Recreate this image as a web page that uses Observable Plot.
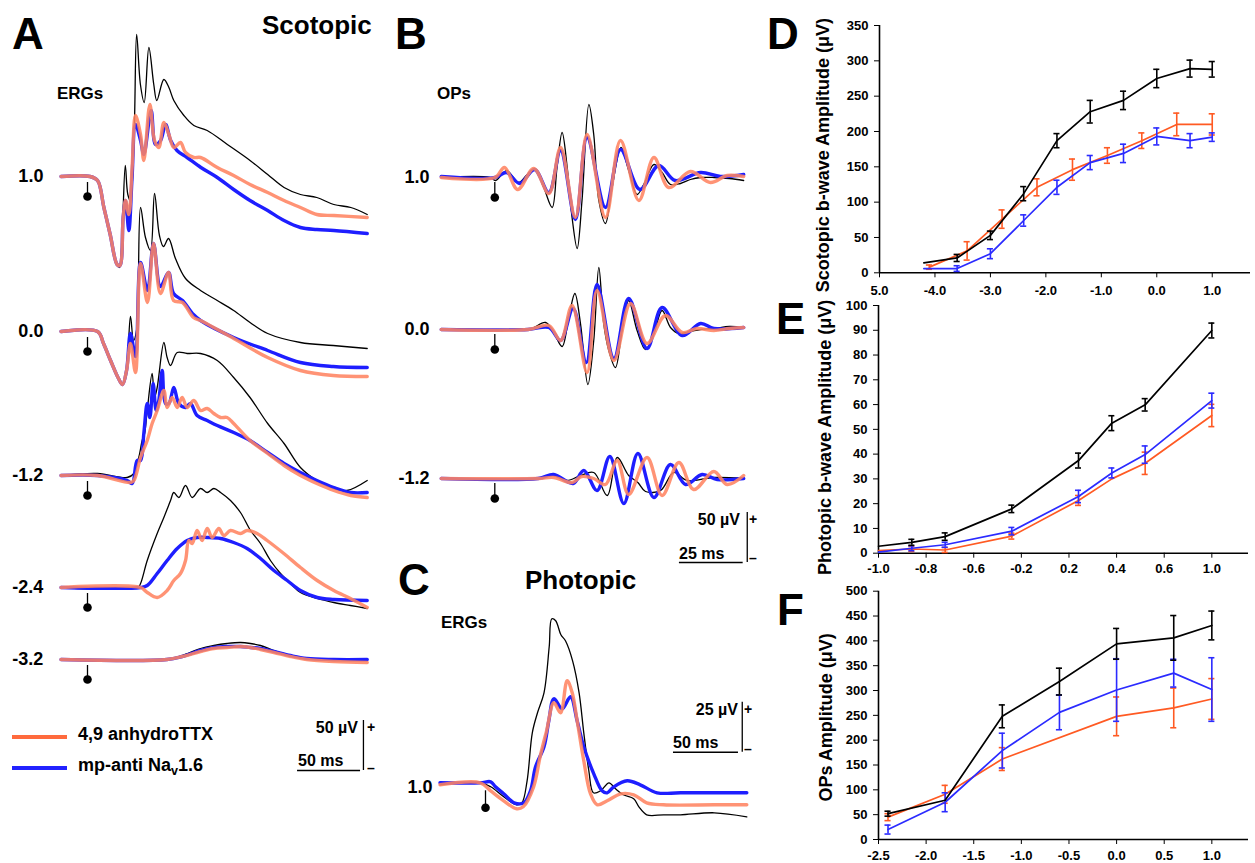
<!DOCTYPE html>
<html><head><meta charset="utf-8">
<script src="https://cdn.jsdelivr.net/npm/d3@7"></script>
<script src="https://cdn.jsdelivr.net/npm/@observablehq/plot@0.6"></script>
<style>
html,body{margin:0;padding:0;background:#fff;overflow:hidden}
#fig{position:relative;width:1255px;height:863px;font-family:"Liberation Sans",Arial,Helvetica,sans-serif;color:#000;overflow:hidden}
#fig svg{position:absolute}
.t{position:absolute;white-space:nowrap;line-height:1;font-weight:bold}
.t sub{font-size:70%;vertical-align:-0.35em;line-height:0}
.leg{position:absolute;height:4px;width:55px;left:12px}
</style></head><body><div id="fig"></div>
<script>
// ===================== DATA =====================
// Series: control (black), 4,9 anhydroTTX (orange), mp-anti Nav1.6 (blue)
// Panel A – scotopic ERGs, [time ms after flash, amplitude µV]
const intensitiesA = ["1.0", "0.0", "-1.2", "-2.4", "-3.2"];
const A10_ctrl = [[-21,0],[2,0],[8,-4],[13,-31],[18,-58],[23.5,-88],[25.5,-91],[27.5,-58],[30,11],[32,-18],[34,-24],[37,42],[39,142],[42,92],[45,74],[48.7,129],[52.6,92],[55,76],[60.6,97],[64.6,89],[68.5,76],[76.5,61],[84.4,51],[95,46],[111,32],[129,16],[143,2],[156,-11],[169,-18],[182,-21],[195.5,-28],[209,-31],[222,-38]];
const A10_ttx = [[-21,0],[2,0],[8,-4],[13,-31],[18,-58],[23.5,-88],[25.7,-89],[28.3,-41],[30.2,-24],[32.8,-38],[35.4,9],[38.1,61],[42.1,42],[44.7,16],[49.5,72],[53.2,36],[56.6,29],[60.6,54],[64.6,42],[68.5,29],[73.8,34],[77.8,24],[84.4,19],[89.7,19],[103,9],[116,1],[129,-8],[143,-16],[156,-24],[169,-31],[182,-38],[195.5,-39],[222,-41]];
const A10_nav = [[-21,0],[2,0],[8,-4],[13,-31],[18,-58],[23.5,-88],[25.7,-89],[28.3,-41],[30.2,-24],[32.8,-54],[35.4,0],[38.1,52],[42.1,36],[44.7,22],[50.5,66],[54,32],[58,36],[62,52],[66,36],[71,26],[79,19],[90,9],[103,-1],[116,-13],[129,-24],[143,-34],[156,-44],[169,-51],[182,-53],[195.5,-54],[222,-57]];
const A00_ctrl = [[-21,0],[8,0],[12.7,-12],[18.3,-29],[24.6,-47],[27.8,-53],[31,-39],[34.1,15],[36.5,-9],[38.9,1],[42.1,124],[46,94],[50,81],[53.2,138],[57.1,96],[60.3,85],[64.3,93],[69.8,73],[77.8,53],[89.7,41],[103,31],[116,21],[129,9],[143,-2],[169,-11],[195,-14],[222,-17]];
const A00_ttx = [[-21,0],[8,0],[12.7,-12],[18.3,-29],[24.6,-47],[27.8,-53],[31,-39],[34.1,-12],[38.1,-41],[42.1,68],[47.6,29],[52.4,88],[57.9,38],[64.3,59],[68.3,31],[75.4,29],[84.1,14],[89.7,11],[116,-7],[143,-26],[169,-39],[195,-44],[222,-45]];
const A00_nav = [[-21,0],[8,0],[12.7,-12],[18.3,-29],[24.6,-47],[27.8,-53],[31,-39],[34.1,-2],[38.1,-25],[42.1,69],[47.6,41],[52.4,88],[57.9,45],[64.3,59],[68.3,38],[75.4,31],[84.1,17],[89.7,11],[116,-6],[143,-19],[169,-31],[195,-35],[222,-36]];
const Am12_ctrl = [[-21,0],[8,2],[31.5,-2],[36.8,2],[40.7,18],[43.4,35],[45.3,42],[47.4,65],[51.3,102],[53.2,78],[55.3,88],[60.6,133],[63.2,118],[65.9,110],[71.2,123],[79.1,122],[89.7,122],[103,115],[116,98],[129,78],[143,52],[156,32],[169,8],[182,-5],[195.5,-13],[206,-15],[222,-5]];
const Am12_ttx = [[-21,0],[8,0],[34.1,-7],[36.8,-5],[42.1,18],[47.4,35],[51.3,52],[55.3,65],[60.6,85],[63.2,68],[67.2,78],[71.2,68],[75.1,78],[79.1,68],[84.4,75],[89.7,65],[95,67],[100.3,62],[105.6,58],[110.8,58],[116,52],[129,35],[143,22],[156,10],[169,0],[182,-8],[195.5,-15],[209,-20],[222,-22]];
const Am12_nav = [[-21,0],[8,0],[31.5,-5],[35.5,-8],[39.4,15],[42.1,15],[44.7,42],[47.4,72],[49.5,58],[52.1,92],[54.5,65],[56.6,75],[59.3,105],[61.9,72],[64.6,72],[68.5,88],[72.5,72],[77.8,68],[81.7,72],[87,60],[95,55],[103,50],[116,43],[129,35],[143,23],[156,12],[169,3],[182,-5],[195.5,-12],[209,-17],[222,-17]];
const Am24_ctrl = [[-21,0],[40,0],[42.1,4],[47.4,27],[55.3,54],[60.6,70],[65.9,87],[68.5,95],[72.5,90],[77.8,102],[83.1,90],[89.7,99],[95,95],[100.3,99],[105.6,95],[113.5,87],[121.4,75],[129.4,57],[137.3,44],[145.2,27],[153.2,14],[161.1,4],[169,-5],[182.3,-11],[195.5,-15],[208.7,-18],[222,-21]];
const Am24_ttx = [[-21,0],[42.1,0],[47.4,-5],[55.3,-10],[63.2,-3],[68.5,7],[73.8,14],[77.8,27],[80.4,47],[83.1,44],[87,57],[91,47],[95,59],[99,50],[104.2,59],[108.2,52],[113.5,57],[121.4,54],[126.7,57],[134.6,54],[142.6,47],[155.8,34],[169,20],[182.3,7],[195.5,-3],[208.7,-11],[222,-20]];
const Am24_nav = [[-21,0],[42.1,0],[47.4,2],[55.3,14],[63.2,27],[71.2,39],[79.1,47],[87,50],[95,50],[105.6,49],[116,45],[126.7,39],[137.3,29],[147.9,17],[158.5,7],[169,-3],[182.3,-10],[195.5,-12],[222,-13]];
const Am32_ctrl = [[-21,0],[63,0],[75.1,4],[89.7,11],[100.3,14],[110.8,16],[121.4,17],[129.4,16],[137.3,14],[148,9],[161,4],[174,1],[195.5,-1],[222,-1]];
const Am32_ttx = [[-21,0],[63,0],[75.1,3],[89.7,8],[100.3,11],[110.8,12],[121.4,13],[129.4,12],[137.3,10],[148,7],[161,3],[174,0],[195.5,-2],[222,-3]];
const Am32_nav = [[-21,0],[63,0],[75.1,3],[89.7,9],[100.3,12],[110.8,13],[121.4,13],[129.4,12],[137.3,11],[148,8],[161,4],[174,1],[195.5,0],[222,0]];

// Panel B – scotopic OPs, [ms, µV]
const intensitiesB = ["1.0", "0.0", "-1.2"];
const B10_ctrl = [[-21,0],[-2,0],[0.3,-3],[3.5,5],[4.8,7],[9.4,-5],[12.7,3],[15.9,8],[19.2,-10],[22.5,-30],[24.4,10],[26.4,45],[28.4,10],[30.3,-40],[32.3,-71],[34.2,-23],[36.9,73],[38.8,43],[40.8,-23],[43.4,-46],[46,-10],[49.5,30],[52.5,7],[55.8,-17],[58.4,-7],[62.4,13],[65.6,5],[68.9,-7],[72.8,-6],[76.7,-2],[80.7,0],[86,0],[92,-1],[97.6,-3]];
const B10_ttx = [[-21,0],[0,0],[3.8,10],[9,-12],[15.3,9],[21.2,-16],[25.8,30],[31.6,-40],[36.2,43],[43.4,-40],[49.3,37],[56.5,-23],[62.4,20],[68.2,-10],[76.7,6],[84.6,-5],[91.1,2],[97.6,1]];
const B10_nav = [[-21,1],[0,0],[4.6,5],[9.8,-6],[15.6,8],[21.2,-15],[25.8,27],[31.6,-42],[36.2,40],[43.4,-30],[49.3,28],[56.9,-12],[64.3,12],[70.8,-3],[80.7,5],[88.5,1],[97.6,3]];
const B00_ctrl = [[-21,0],[13,0],[15.3,2],[19.9,7],[23.1,-3],[26.4,-17],[29,12],[31.4,36],[33.6,6],[36.5,-55],[38.8,-11],[40.8,62],[42.7,6],[44.7,-21],[47.3,-38],[49.9,-1],[52.5,29],[55.8,-1],[59.1,-20],[62.4,-4],[65.6,19],[68.9,2],[72.2,-4],[76.7,-2],[80.7,0],[86,1],[92,3],[97.6,2]];
const B00_ttx = [[-21,0],[13,0],[21.2,4],[25.8,-11],[30.3,24],[36.2,-43],[40.1,39],[46.7,-31],[53.2,26],[59.7,-14],[66.9,14],[73.5,-3],[79.3,1],[85.9,-1],[92,1],[97.6,2]];
const B00_nav = [[-21,0],[13,0],[21.2,2],[25.8,-11],[30.7,21],[35.9,-33],[40.1,45],[46.7,-29],[52.5,31],[59.7,-19],[65.6,22],[73.5,-6],[80.7,6],[85.9,1],[97.6,2]];
const Bm12_ctrl = [[-21,0],[17,0],[23.1,3],[28.4,-2],[33.6,3],[38.8,6],[44.1,-17],[48,21],[52.5,3],[56.1,-4],[59.1,-13],[65,-12],[70.2,6],[75.4,-2],[85.9,1],[97.6,0]];
const Bm12_ttx = [[-21,0],[17,0],[23.1,1],[30.3,-4],[34,2],[38.8,0],[43.4,-6],[48,18],[52.5,-16],[59.7,21],[65.6,-17],[72.2,16],[78,-11],[85.9,7],[91.1,-6],[97.6,3]];
const Bm12_nav = [[-21,0],[17,0],[23.1,4],[30.7,-5],[34.9,8],[40.1,-12],[45.1,22],[50.6,-25],[56.1,25],[62.4,-19],[68.9,14],[74.8,-6],[81.3,4],[87.2,-1],[97.6,0]];

// Panel C – photopic ERG, [ms, µV]
const C10_ctrl = [[-35,-1],[-4,0],[4,-2],[14,-7],[24,-11],[28,-10],[32,1],[36,25],[40,35],[45,45],[49,68],[51,82],[54,81],[58,74],[61.5,71],[67,61],[72,45],[75.6,25],[79.5,6],[83,-5],[88.5,-4],[95,0],[100,-3],[106,-6],[114,-8],[118,-12],[124,-16],[137,-16],[150,-16],[176,-15],[201,-17]];
const C10_ttx = [[-35,-1],[-4,0],[4,-4],[14,-9],[24,-13],[29,-12],[37,-2],[42,13],[47,26],[52.6,40],[57.7,35],[62.8,51],[66.7,45],[70.5,31],[75.6,11],[80.8,-5.5],[86,-11],[93.6,-9],[104,-5.5],[114,-6],[124,-10],[137,-11],[176,-11],[201,-11]];
const C10_nav = [[-35,0],[-4,0],[4,0.5],[7.7,-2],[14,-5.5],[22,-10],[29.5,-10],[34.6,-4],[38.5,8],[45,18],[48.7,31],[52.6,42],[59,37],[65.4,43],[70.5,31],[75.6,18],[83.3,4.5],[89.7,-4],[93.6,-5],[98.7,-2],[109,1],[119,-1],[132,-5],[150,-5],[201,-5]];

// Panel D – scotopic b-wave amplitude (µV) vs log intensity
const dCtrlX = [-4.2,-3.6,-3.0,-2.4,-1.8,-1.2,-0.6,0,0.6,1.0];
const dCtrlY = [14,21,53,112,187,228,244,275,289,288];
const dCtrlE = [0,5,6,10,10,16,13,13,12,11];
const dTtxX = [-4.1,-3.42,-2.79,-2.16,-1.52,-0.89,-0.27,0.36,1.0];
const dTtxY = [8,31,76,121,146,166,187,210,210];
const dTtxE = [3,13,13,12,15,11,11,16,15];
const dNavX = [-4.2,-3.6,-3.0,-2.4,-1.8,-1.2,-0.6,0,0.6,1.0];
const dNavY = [6,6,27,74,121,156,169,193,187,192];
const dNavE = [0,4,7,8,10,10,13,12,10,6];
const dXTicks = [-5,-4,-3,-2,-1,0,1];

// Panel E – photopic b-wave amplitude (µV)
const eX = [-1.0,-0.8,-0.6,-0.2,0.2,0.4,0.6,1.0];
const eCtrlY = [2.8,4.4,6.7,17.9,37.4,52.5,59.9,89.9];
const eCtrlE = [0,1.2,1.5,1.5,3,3,2.5,3];
const eTtxY = [1.1,1.7,1.3,6.9,21.3,30,36.3,55.6];
const eTtxE = [0,1,1,1.2,2,0,4.5,4.5];
const eNavY = [0.4,2,3.4,8.9,22.9,32.4,39.8,61.6];
const eNavE = [0,1,1,1.5,2.5,2,3.5,3];
const eTickLabels = ["-1.0","-0.8","-0.6","-0.2","0.2","0.4","0.6","1.0"];

// Panel F – OPs amplitude (µV)
const fX = [-2.4,-1.8,-1.2,-0.6,0,0.6,1.0];
const fCtrlY = [52,79,248,318,394,406,431];
const fCtrlE = [5,0,23,27,31,45,29];
const fTtxX = [-2.4,-1.8,-1.2,0,0.6,1.0];
const fTtxY = [45,91,162,248,265,283];
const fTtxE = [7,18,23,39,40,41];
const fNavY = [20,75,179,256,301,335,302];
const fNavE = [9,19,35,35,63,28,64];

// ===================== STYLE / LAYOUT =====================
const TR_ORANGE = "#ff8462", TR_BLUE = "#1e1eff";
const ST_ORANGE = "#ff5a23", ST_BLUE = "#2b2bff";
const FONT = '"Liberation Sans", Arial, Helvetica, sans-serif';
const fig = document.getElementById("fig");

function place(svg, left, top) { svg.style.left = left + "px"; svg.style.top = top + "px"; fig.appendChild(svg); }
function txt(html, x, y, size, anchor) {
  const d = document.createElement("div");
  d.className = "t"; d.innerHTML = html;
  d.style.left = x + "px"; d.style.top = y + "px"; d.style.fontSize = size + "px";
  const ax = anchor === "end" ? "-100%" : anchor === "middle" ? "-50%" : "0";
  d.style.transform = `translate(${ax},-50%)`;
  fig.appendChild(d);
}
function rowsOf(pairs, level) { return pairs.map(([t, v]) => ({t, v, level})); }

// ---------- trace panel builder ----------
function tracePlot(o) {
  const k = o.series;
  const y = d => d.v - (o.base[d.level] || 0);
  const marks = [];
  const cat = (i) => k.flatMap(([lv, tr]) => rowsOf(tr[i], lv));
  marks.push(Plot.line(cat(0), {x: "t", y, z: "level", stroke: "#000", strokeWidth: 1.3, curve: "catmull-rom"}));
  marks.push(Plot.line(cat(2), {x: "t", y, z: "level", stroke: TR_BLUE, strokeWidth: 3.4, curve: "catmull-rom"}));
  marks.push(Plot.line(cat(1), {x: "t", y, z: "level", stroke: TR_ORANGE, strokeOpacity: 0.88, strokeWidth: 3.4, curve: "catmull-rom"}));
  const lv = k.map(([level]) => ({level, v: 0}));
  marks.push(Plot.ruleX(lv, {x: 0, y1: d => y(d) + o.flash[0], y2: d => y(d) + o.flash[1], stroke: "#000", strokeWidth: 1.3}));
  marks.push(Plot.dot(lv, {x: 0, y: d => y(d) + o.flash[1], r: 4.3, fill: "#000"}));
  marks.push(Plot.text(lv, {x: o.labelT, y: d => y(d) + o.labelDy, text: "level", textAnchor: "end", fontSize: 18, fontWeight: "bold"}));
  const s = o.bar;
  marks.push(Plot.ruleX([s], {x: "barT", y1: d => d.base, y2: d => d.base + d.uv, stroke: "#000", strokeWidth: 1.3}));
  marks.push(Plot.ruleY([s], {y: "base", x1: d => d.msEnd - d.ms, x2: "msEnd", stroke: "#000", strokeWidth: 1.6}));
  return Plot.plot({
    width: o.width, height: o.height, margin: 0,
    x: {domain: o.xDomain, axis: null}, y: {domain: o.yDomain, axis: null},
    style: {background: "transparent", overflow: "visible", fontFamily: FONT},
    marks
  });
}

// Panel A (1 px per µV, 1.26 px per ms)
const baseA = {"1.0": 176, "0.0": 331, "-1.2": 475, "-2.4": 587, "-3.2": 659};
const tracesA = [A10_ctrl, A10_ttx, A10_nav, A00_ctrl, A00_ttx, A00_nav, Am12_ctrl, Am12_ttx, Am12_nav, Am24_ctrl, Am24_ttx, Am24_nav, Am32_ctrl, Am32_ttx, Am32_nav];
place(tracePlot({
  width: 380, height: 863, xDomain: [-87/1.26, (380-87)/1.26], yDomain: [-863, 0],
  base: baseA, series: intensitiesA.map((lv, i) => [lv, tracesA.slice(i*3, i*3+3)]),
  flash: [-6, -20], labelT: -35, labelDy: 0,
  bar: {barT: 219, base: -770, uv: 50, msEnd: 216.7, ms: 50}
}), 0, 0);

// Panel B (1 px per µV, 2.55 px per ms)
const baseB = {"1.0": 177, "0.0": 329, "-1.2": 478};
const tracesB = [B10_ctrl, B10_ttx, B10_nav, B00_ctrl, B00_ttx, B00_nav, Bm12_ctrl, Bm12_ttx, Bm12_nav];
place(tracePlot({
  width: 400, height: 600, xDomain: [-114.3/2.55, (400-114.3)/2.55], yDomain: [-600, 0],
  base: baseB, series: intensitiesB.map((lv, i) => [lv, tracesB.slice(i*3, i*3+3)]),
  flash: [-5, -20], labelT: -25.6, labelDy: 0,
  bar: {barT: 99, base: -562, uv: 50, msEnd: 97.4, ms: 25}
}), 380, 0);

// Panel C (2 px per µV, 1.3 px per ms)
place(tracePlot({
  width: 400, height: 263, xDomain: [-105/1.3, 295/1.3], yDomain: [-40.35, 91.15],
  base: {"1.0": 0}, series: [["1.0", [C10_ctrl, C10_ttx, C10_nav]]],
  flash: [-4, -12.5], labelT: -40.8, labelDy: -2,
  bar: {barT: 197.5, base: 15.3, uv: 25, msEnd: 194.6, ms: 50}
}), 380, 600);

// ---------- statistics panels ----------
function statPlot(o) {
  const marks = [
    Plot.ruleY([o.yDomain[0]], {stroke: "#000", strokeWidth: 1.6}),
    Plot.ruleX([o.xDomain[0]], {y1: o.yDomain[0], y2: o.yDomain[1], stroke: "#000", strokeWidth: 1.6})
  ];
  for (const s of o.series) {
    const rows = s.x.map((x, i) => ({x, y: s.y[i], e: s.e[i]}));
    const eb = rows.filter(r => r.e > 0);
    marks.push(Plot.line(rows, {x: "x", y: "y", stroke: s.color, strokeWidth: 1.7}));
    marks.push(Plot.ruleX(eb, {x: "x", y1: d => d.y - d.e, y2: d => d.y + d.e, stroke: s.color, strokeWidth: 1.6}));
    marks.push(Plot.ruleY(eb, {y: d => d.y + d.e, x1: d => d.x - o.cap, x2: d => d.x + o.cap, stroke: s.color, strokeWidth: 1.6}));
    marks.push(Plot.ruleY(eb, {y: d => d.y - d.e, x1: d => d.x - o.cap, x2: d => d.x + o.cap, stroke: s.color, strokeWidth: 1.6}));
  }
  marks.push(Plot.text([o.label], {text: d => d, frameAnchor: "left", rotate: -90, dx: o.ldx, dy: o.ldy, fontSize: 18, fontWeight: "bold", textAnchor: "middle"}));
  return Plot.plot({
    width: o.width, height: o.height,
    marginLeft: o.m[0], marginRight: o.m[1], marginTop: o.m[2], marginBottom: o.m[3],
    x: {domain: o.xDomain, ticks: o.xTicks, tickFormat: o.xFormat, tickSize: 5, tickPadding: o.xPad, label: null},
    y: {domain: o.yDomain, ticks: o.yTicks, tickFormat: d => String(d), tickSize: 5, tickPadding: 6, label: null},
    style: {background: "transparent", overflow: "visible", fontFamily: FONT, fontSize: "13px", fontWeight: "bold", color: "#000"},
    marks
  });
}

place(statPlot({
  width: 465, height: 300, m: [89, 5, 25, 27.7],
  xDomain: [-5, 1.69], yDomain: [0, 350], xTicks: dXTicks, yTicks: d3.range(0, 351, 50), xPad: 8,
  xFormat: d => d === -5 ? "5.0" : d.toFixed(1), cap: 0.055,
  label: "Scotopic b-wave Amplitude (μV)", ldx: -56.5, ldy: 6,
  series: [
    {x: dTtxX, y: dTtxY, e: dTtxE, color: ST_ORANGE},
    {x: dNavX, y: dNavY, e: dNavE, color: ST_BLUE},
    {x: dCtrlX, y: dCtrlY, e: dCtrlE, color: "#000"}
  ]
}), 790, 0);

place(statPlot({
  width: 465, height: 300, m: [88, 7, 25, 27.3],
  xDomain: [-1, 1.22], yDomain: [0, 100], xTicks: d3.range(8).map(i => -1 + i * 2 / 7), yTicks: d3.range(0, 101, 10), xPad: 6,
  xFormat: d => eTickLabels[Math.round((d + 1) * 3.5)], cap: 0.018,
  label: "Photopic b-wave Amplitude (μV)", ldx: -53.5, ldy: 8,
  series: [
    {x: eX, y: eTtxY, e: eTtxE, color: ST_ORANGE},
    {x: eX, y: eNavY, e: eNavE, color: ST_BLUE},
    {x: eX, y: eCtrlY, e: eCtrlE, color: "#000"}
  ]
}), 790, 280);

place(statPlot({
  width: 465, height: 293, m: [88, 7, 20.7, 24],
  xDomain: [-2.5, 1.385], yDomain: [0, 500], xTicks: d3.range(-2.5, 1.01, 0.5), yTicks: d3.range(0, 501, 50), xPad: 6,
  xFormat: d => d.toFixed(1), cap: 0.032,
  label: "OPs Amplitude (μV)", ldx: -52.5, ldy: 2,
  series: [
    {x: fTtxX, y: fTtxY, e: fTtxE, color: ST_ORANGE},
    {x: fX, y: fNavY, e: fNavE, color: ST_BLUE},
    {x: fX, y: fCtrlY, e: fCtrlE, color: "#000"}
  ]
}), 790, 570);

// ---------- text annotations ----------
txt("A", 12, 34, 44); txt("B", 395, 34, 44); txt("C", 398, 580, 44);
txt("D", 767, 34, 44); txt("E", 776, 319, 44); txt("F", 777, 610, 44);
txt("Scotopic", 262, 25, 26); txt("Photopic", 525, 580, 26);
txt("ERGs", 57, 93, 17); txt("OPs", 437, 93, 17); txt("ERGs", 441, 622, 17);
// legend
const l1 = document.createElement("div"); l1.className = "leg"; l1.style.top = "735px"; l1.style.background = "#ff6a3d"; fig.appendChild(l1);
const l2 = document.createElement("div"); l2.className = "leg"; l2.style.top = "766px"; l2.style.background = "#2222ff"; fig.appendChild(l2);
txt("4,9 anhydroTTX", 78, 734, 18); txt("mp-anti Na<sub>v</sub>1.6", 78, 765, 18);
// scale bar labels
txt("50 µV", 358, 728, 16, "end"); txt("+", 367, 727, 14); txt("50 ms", 298, 761, 16); txt("–", 367, 768, 14);
txt("50 µV", 740, 520, 16, "end"); txt("+", 749, 519, 14); txt("25 ms", 679, 554, 16); txt("–", 749, 558, 14);
txt("25 µV", 738, 710, 16, "end"); txt("+", 744, 709, 14); txt("50 ms", 673, 743, 16); txt("–", 744, 749, 14);
</script></body></html>
